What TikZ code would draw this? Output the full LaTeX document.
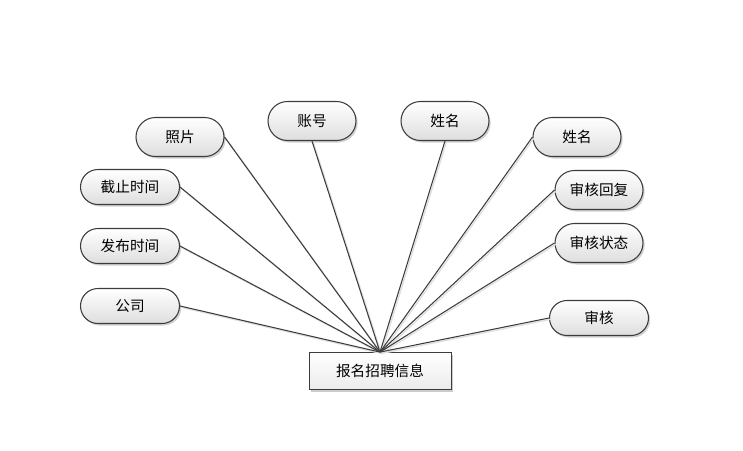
\documentclass[tikz,border=0pt]{standalone}
\usepackage{fontspec}
\newfontfamily\cjk{Noto Sans CJK SC}
\usetikzlibrary{shapes.misc, shadows}
\definecolor{LineGray}{RGB}{60, 60, 60}
\definecolor{FillGray}{RGB}{222, 222, 222}

\begin{document}
\begin{tikzpicture}[
  attr/.style={rounded rectangle, draw=LineGray, line width=0.9pt, top color=white, bottom color=FillGray, font=\cjk\fontsize{12.5}{14}\selectfont, minimum width=2.64cm, minimum height=1.17cm, inner sep=0pt, drop shadow={shadow xshift=0.05cm, shadow yshift=-0.06cm, fill=black, opacity=0.18}},
  wattr/.style={attr, minimum width=2.97cm, minimum height=1.05cm},
  ent/.style={rectangle, draw=LineGray, line width=0.7pt, top color=white, bottom color=FillGray!60, font=\cjk\fontsize{12.5}{14}\selectfont, minimum width=4.26cm, minimum height=1.11cm, inner sep=0pt, drop shadow={shadow xshift=0.06cm, shadow yshift=-0.06cm, fill=black, opacity=0.2}},
  link/.style={LineGray, line width=0.9pt, preaction={draw, black!12, line width=1.2pt, transform canvas={xshift=0.04cm, yshift=-0.04cm}}}]
\useasboundingbox (0, 0) rectangle (22.29, -13.5);
\node[ent] (info) at (11.40, -11.13) {报名招聘信息};
\coordinate (hub) at (info.north);
\node[attr] (photo) at (5.40, -4.11) {照片};
\node[attr] (account) at (9.36, -3.63) {账号};
\node[attr] (name1) at (13.35, -3.63) {姓名};
\node[attr] (name2) at (17.31, -4.11) {姓名};
\node[wattr] (deadline) at (3.90, -5.61) {截止时间};
\node[wattr] (pubtime) at (3.90, -7.38) {发布时间};
\node[wattr] (company) at (3.90, -9.18) {公司};
\node[attr] (reply) at (17.97, -5.70) {审核回复};
\node[attr] (state) at (17.97, -7.29) {审核状态};
\node[wattr] (audit) at (17.97, -9.54) {审核};
\draw[link] (photo.east) -- (hub); \draw[link] (account.south) -- (hub); \draw[link] (name1.south) -- (hub); \draw[link] (name2.west) -- (hub);
\draw[link] (deadline.east) -- (hub); \draw[link] (pubtime.east) -- (hub); \draw[link] (company.east) -- (hub);
\draw[link] (reply.west) -- (hub); \draw[link] (state.west) -- (hub); \draw[link] (audit.west) -- (hub);
\end{tikzpicture}
\end{document}
